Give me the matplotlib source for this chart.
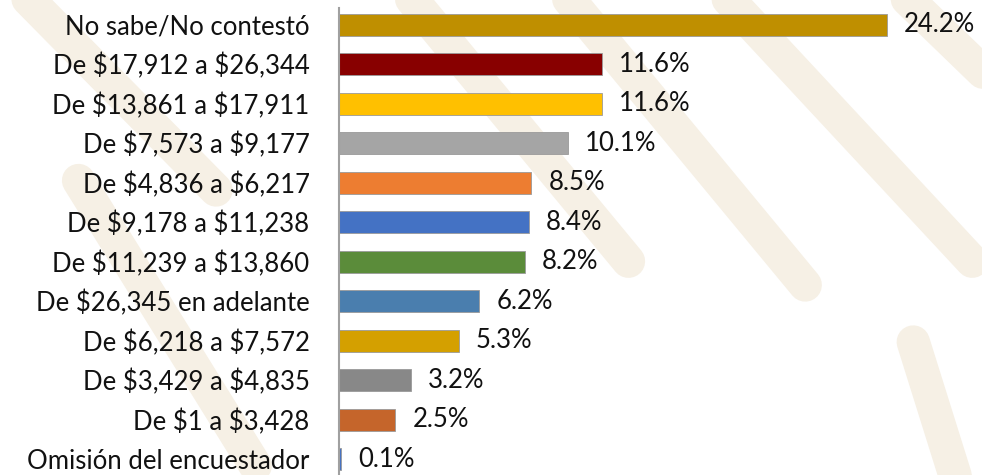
import matplotlib
matplotlib.use("Agg")
import matplotlib.pyplot as plt
from matplotlib.lines import Line2D

# Income brackets, ordered as shown from top to bottom
categories = [
    "No sabe/No contestó",
    "De $17,912 a $26,344",
    "De $13,861 a $17,911",
    "De $7,573 a $9,177",
    "De $4,836 a $6,217",
    "De $9,178 a $11,238",
    "De $11,239 a $13,860",
    "De $26,345 en adelante",
    "De $6,218 a $7,572",
    "De $3,429 a $4,835",
    "De $1 a $3,428",
    "Omisión del encuestador",
]
values = [24.2, 11.6, 11.6, 10.1, 8.5, 8.4, 8.2, 6.2, 5.3, 3.2, 2.5, 0.1]
colors = ["#BF8F00", "#880000", "#FFC000", "#A5A5A5", "#ED7D31", "#4472C4",
          "#5B8C3A", "#4A7EAE", "#D4A000", "#888888", "#C5652B", "#4472C4"]

plt.rcParams["font.family"] = ["Lato", "DejaVu Sans"]
plt.rcParams["text.parse_math"] = False  # keep the $ signs literal

fig = plt.figure(figsize=(9.82, 4.75), dpi=100)
fig.patch.set_facecolor("white")

# faint watermark bands in the background
band = "#F6F0E5"
for x0, y0, x1, y1 in [(0.40, 1.05, 0.64, 0.45), (0.56, 1.05, 0.82, 0.40),
                       (0.72, 1.05, 0.99, 0.45), (0.90, 1.05, 1.05, 0.75),
                       (0.02, 1.02, 0.22, 0.60), (0.08, 0.62, 0.26, 0.02),
                       (0.93, 0.28, 0.98, -0.05)]:
    fig.add_artist(Line2D([x0, x1], [y0, y1], transform=fig.transFigure,
                          color=band, linewidth=24, solid_capstyle="round",
                          zorder=0))

ax = fig.add_axes([0.345, 0.0, 0.60, 0.983])
ax.set_facecolor("none")
ypos = list(range(len(values)))
ax.barh(ypos, values, height=0.56, color=colors, edgecolor="#9A9A9A",
        linewidth=0.6, zorder=2)

for y, v in zip(ypos, values):
    ax.text(v + 0.75, y, f"{v:.1f}%", va="center", ha="left",
            fontsize=18.5, color="#111111")

ax.set_xlim(0, 26)
ax.set_ylim(11.4, -0.42)
ax.set_yticks(ypos)
ax.set_yticklabels(categories, fontsize=18.5, color="#111111")
ax.tick_params(axis="y", length=0, pad=21)
ax.set_xticks([])
for side in ["top", "right", "bottom"]:
    ax.spines[side].set_visible(False)
ax.spines["left"].set_color("#A0A0A0")
ax.spines["left"].set_linewidth(1.5)

fig.savefig("out.png", dpi=100)
